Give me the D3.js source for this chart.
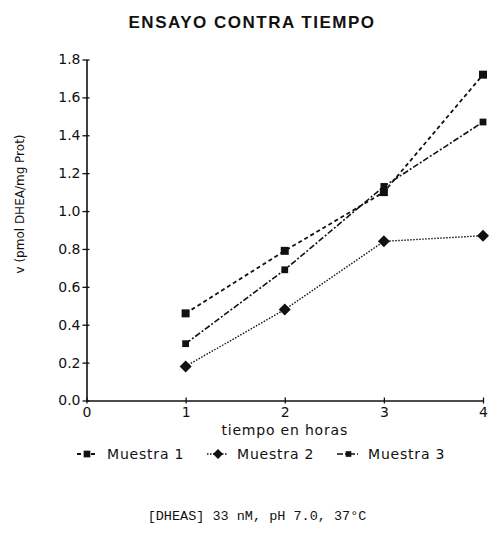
<!DOCTYPE html>
<html><head><meta charset="utf-8">
<script src="https://cdn.jsdelivr.net/npm/d3@7"></script>
<style>
html,body{margin:0;padding:0;background:#fff;}
svg{display:block;}
</style></head>
<body>
<script>
const hours = [1, 2, 3, 4];
const muestra1 = [0.46, 0.79, 1.10, 1.72];
const muestra2 = [0.18, 0.48, 0.84, 0.87];
const muestra3 = [0.30, 0.69, 1.13, 1.47];
const seriesNames = ["Muestra 1", "Muestra 2", "Muestra 3"];
const xTicks = [0, 1, 2, 3, 4];
const yTicks = [0.0, 0.2, 0.4, 0.6, 0.8, 1.0, 1.2, 1.4, 1.6, 1.8];
const titleText = "ENSAYO CONTRA TIEMPO";
const xLabel = "tiempo en horas";
const yLabel = "v (pmol DHEA/mg Prot)";
const footnote = "[DHEAS] 33 nM, pH 7.0, 37°C";

const W = 492, H = 550;
const svg = d3.select("body").append("svg").attr("width", W).attr("height", H);
const x = d3.scaleLinear().domain([0, 4]).range([86.5, 483]);
const y = d3.scaleLinear().domain([0, 1.8]).range([400.5, 59.5]);
const ink = "#111";
const fontTick = "'DejaVu Sans', Verdana, sans-serif";

svg.append("text").attr("x", 252).attr("y", 27.5).attr("text-anchor", "middle")
  .attr("font-family", "'Liberation Sans', Arial, sans-serif").attr("font-weight", "bold")
  .attr("font-size", 17).attr("letter-spacing", 1.5).attr("fill", ink).text(titleText);

// axes
const gx = svg.append("g").attr("transform", `translate(0,${y(0)})`)
  .call(d3.axisBottom(x).tickValues(xTicks).tickFormat(d3.format("d")).tickSize(0));
gx.select(".domain").attr("stroke", ink).attr("stroke-width", 1.6);
gx.selectAll(".tick text").attr("font-family", fontTick).attr("font-size", 14).attr("fill", ink).attr("dy", 0).attr("y", 16.5);
gx.selectAll(".tick").append("line").attr("y1", -3).attr("y2", 3).attr("stroke", ink).attr("stroke-width", 1.3);

const gy = svg.append("g").attr("transform", `translate(${x(0)},0)`)
  .call(d3.axisLeft(y).tickValues(yTicks).tickFormat(d3.format(".1f")).tickSize(0));
gy.select(".domain").attr("stroke", ink).attr("stroke-width", 1.6);
gy.selectAll(".tick text").attr("font-family", fontTick).attr("font-size", 14).attr("fill", ink).attr("x", -6);
gy.selectAll(".tick").append("line").attr("x1", -4).attr("x2", 3).attr("stroke", ink).attr("stroke-width", 1.3);

svg.append("text").attr("x", x(2)).attr("y", 435).attr("text-anchor", "middle")
  .attr("font-family", fontTick).attr("font-size", 14).attr("letter-spacing", 0.8).attr("fill", ink).text(xLabel);
svg.append("text").attr("transform", "translate(24,204) rotate(-90)").attr("text-anchor", "middle")
  .attr("font-family", fontTick).attr("font-size", 12).attr("fill", ink).text(yLabel);

const diamond = {draw(ctx, size) { const r = Math.sqrt(size / 2); ctx.moveTo(0, -r); ctx.lineTo(r, 0); ctx.lineTo(0, r); ctx.lineTo(-r, 0); ctx.closePath(); }};
const styles = [
  {vals: muestra1, dash: "4,3", w: 1.8, sym: d3.symbolSquare, size: 64},
  {vals: muestra2, dash: "1.5,1.5", w: 1.4, sym: diamond, size: 72},
  {vals: muestra3, dash: "6,2,2,2", w: 1.6, sym: d3.symbolSquare, size: 46},
];
const line = d3.line().x((d, i) => x(hours[i])).y(d => y(d));
styles.forEach(s => {
  svg.append("path").attr("d", line(s.vals)).attr("fill", "none").attr("stroke", ink)
    .attr("stroke-width", s.w).attr("stroke-dasharray", s.dash);
  svg.selectAll(null).data(s.vals).enter().append("path")
    .attr("d", d3.symbol().type(s.sym).size(s.size))
    .attr("transform", (d, i) => `translate(${x(hours[i])},${y(d)})`).attr("fill", ink);
});

// legend
const legX = [[77, 95, 107], [207, 227, 237], [337, 358, 368]];
styles.forEach((s, i) => {
  const [a, b, t] = legX[i];
  const ly = 454;
  svg.append("line").attr("x1", a).attr("x2", b).attr("y1", ly).attr("y2", ly)
    .attr("stroke", ink).attr("stroke-width", s.w).attr("stroke-dasharray", s.dash);
  svg.append("path").attr("d", d3.symbol().type(s.sym).size(s.size * 0.7)).attr("transform", `translate(${(a + b) / 2 + 1},${ly})`).attr("fill", ink);
  svg.append("text").attr("x", t).attr("y", 459).attr("font-family", fontTick).attr("font-size", 14)
    .attr("letter-spacing", 0.8).attr("fill", ink).text(seriesNames[i]);
});

svg.append("text").attr("x", 257).attr("y", 520).attr("text-anchor", "middle")
  .attr("font-family", "'Liberation Mono', 'Courier New', monospace").attr("font-size", 13.5)
  .attr("fill", ink).text(footnote);
</script>
</body></html>
